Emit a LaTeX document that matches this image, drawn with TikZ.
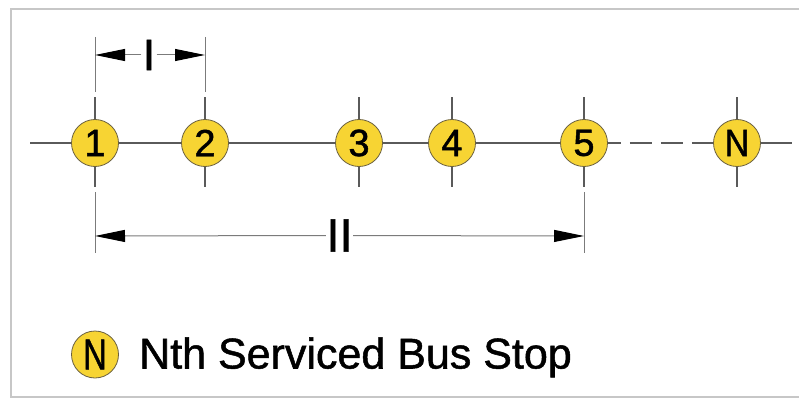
\documentclass[tikz,border=0pt]{standalone}
\usepackage{fontspec}
\setmainfont{Liberation Sans}
\newfontfamily\heavysans[FakeBold=1.2]{Liberation Sans}
\usetikzlibrary{arrows.meta}
\definecolor{stopyellow}{HTML}{F7D433}
\definecolor{stopedge}{HTML}{6A6040}
\definecolor{linegray}{HTML}{5A5A5A}
\tikzset{
  stopnode/.style={circle, minimum size=47pt, inner sep=0pt, fill=stopyellow, draw=stopedge, line width=0.8pt, font=\heavysans\fontsize{38}{41}\selectfont},
  routeline/.style={draw=linegray, line width=1.2pt},
  tickline/.style={draw=linegray, line width=1.1pt},
  extline/.style={draw=linegray!80, line width=1pt},
  dimline/.style={draw=linegray!80, line width=1pt, -{Triangle[length=30pt,width=12pt,color=black]}},
  dimlabel/.style={inner sep=1.2pt},
  framerule/.style={draw=black!22, line width=2pt}
}
\begin{document}
\begin{tikzpicture}[x=1pt,y=-1pt]
\useasboundingbox (0,0) rectangle (799,398);
% frame shadow
\draw[framerule] (799,9) -- (11,9) -- (11,397) -- (799,397);
% stops
\node[stopnode] (s1) at (95,143) {1};
\node[stopnode] (s2) at (205,143) {2};
\node[stopnode] (s3) at (359,143) {3};
\node[stopnode] (s4) at (452,143) {4};
\node[stopnode] (s5) at (584,143) {5};
\node[stopnode] (sN) at (737,143) {\scalebox{0.9}[1]{N}};
% route line
\coordinate (rstart) at (30,143);
\coordinate (rend) at (792,143);
\draw[routeline] (rstart) -- (s1);
\draw[routeline] (s1) -- (s2);
\draw[routeline] (s2) -- (s3);
\draw[routeline] (s3) -- (s4);
\draw[routeline] (s4) -- (s5);
\draw[routeline, dash pattern=on 22pt off 9pt, dash phase=9pt] (s5) -- (sN);
\draw[routeline] (sN) -- (rend);
% ticks
\foreach \s in {s1,s2,s3,s4,s5,sN}{
  \draw[tickline] (\s.north) -- ++(0,-22.5);
  \draw[tickline] (\s.south) -- ++(0,20.5);
}
% extension lines
\draw[extline] (95,37) -- (95,92);
\draw[extline] (205,37) -- (205,92);
\draw[extline] (95,192) -- (95,253);
\draw[extline] (584,192) -- (584,253);
% dimension I
\coordinate (dI1) at (95,55);
\coordinate (dI2) at (205,55);
\node[dimlabel, font=\heavysans\fontsize{44}{46}\selectfont] (lblI) at (149,55) {I};
\draw[dimline] (lblI) -- (dI1);
\draw[dimline] (lblI) -- (dI2);
% dimension II
\coordinate (dII1) at (95,236);
\coordinate (dII2) at (584,236);
\node[inner sep=0.3pt, font=\heavysans\fontsize{47}{49}\selectfont] (lblII) at (339.5,235.5) {II};
\draw[dimline] (lblII) -- (dII1);
\draw[dimline] (lblII) -- (dII2);
% legend
\node[stopnode, font=\heavysans\fontsize{43}{45}\selectfont] (sL) at (95,354.5) {\scalebox{0.76}[1]{N}};
\node[anchor=base west, inner sep=0pt, font=\heavysans\fontsize{43}{45}\selectfont] (legtext) at (139,368.5) {Nth Serviced Bus Stop};
\end{tikzpicture}
\end{document}
